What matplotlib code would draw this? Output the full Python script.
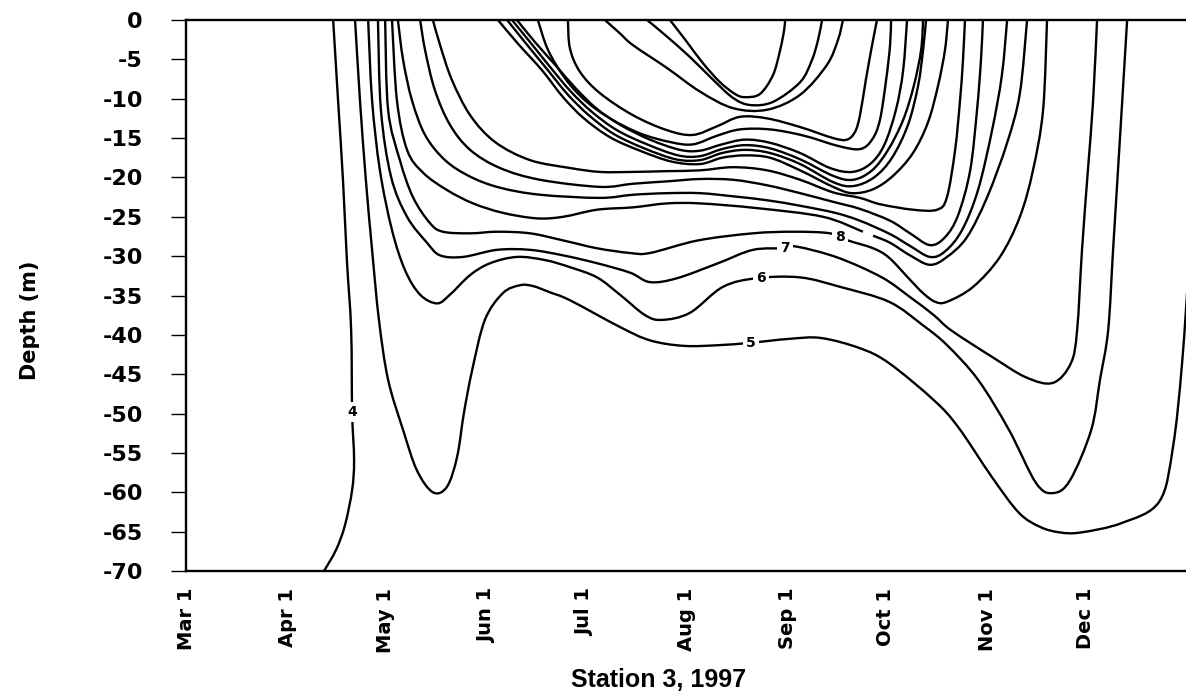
import numpy as np
import matplotlib
matplotlib.use("Agg")
import matplotlib.pyplot as plt
from matplotlib.path import Path
from matplotlib.patches import PathPatch
from matplotlib import font_manager

plt.rcParams["font.family"] = "DejaVu Sans"
plt.rcParams["font.weight"] = "bold"

# isotherms, day counted from Mar 1, depth in m
iso4_day = [45.0, 46.5, 48.0, 49.2, 50.5, 50.8, 51.4, 50.8, 48.6, 45.9, 42.2]
iso4_depth = [0, -10.2, -20.3, -30.5, -39.4, -49.8, -55.9, -59.7, -64.2, -67.3, -70.0]

iso5_day = [51.7, 53.2, 55.0, 56.9, 59.0, 61.8, 66.4, 70.6, 75.5, 79.8, 82.9, 85.0, 87.5, 91.4,
            96.9, 102.1, 106.1, 111.3, 117.4, 132.7, 141.9, 152.3, 163.3, 172.8, 184.7, 194.2,
            206.1, 215.0, 228.7, 236.1, 246.5, 254.7, 261.2, 267.3, 273.7, 286.2, 297.6, 301.8,
            304.6, 307.0]
iso5_depth = [0, -10.2, -20.3, -29.2, -38.1, -45.7, -52.1, -57.2, -60.0, -59.3, -55.5, -49.9,
              -44.5, -38.1, -34.7, -33.7, -33.8, -34.6, -35.6, -39.0, -40.7, -41.4, -41.3, -41.0,
              -40.5, -40.4, -41.7, -43.6, -48.3, -51.7, -58.1, -62.6, -64.4, -65.1, -65.1, -63.9,
              -61.2, -54.3, -43.6, -29.2]

iso6_day = [55.7, 56.9, 59.3, 63.0, 67.0, 71.6, 76.8, 80.7, 86.9, 93.0, 101.2, 109.8, 117.4,
            125.7, 132.7, 140.4, 145.6, 154.1, 164.2, 174.6, 187.8, 200.0, 215.0, 225.4, 232.7,
            242.2, 251.7, 259.9, 265.1, 270.3, 276.8, 279.5, 282.0, 283.5, 285.0, 286.5, 287.8]
iso6_depth = [0, -10.2, -19.1, -26.7, -31.8, -34.9, -36.0, -34.9, -32.4, -30.9, -30.1, -30.5,
              -31.4, -32.7, -34.9, -37.5, -38.1, -37.2, -33.9, -32.8, -32.7, -33.9, -35.8, -38.8,
              -41.3, -45.7, -52.1, -58.8, -60.1, -58.5, -52.1, -45.7, -39.4, -29.2, -19.1, -8.9, 0]

iso7_day = [58.7, 59.6, 62.7, 67.6, 73.7, 77.7, 84.7, 95.1, 105.2, 115.3, 125.7, 135.8, 141.9,
            150.2, 162.7, 173.4, 183.2, 186.9, 199.4, 212.8, 221.4, 228.7, 233.9, 246.5, 256.9,
            265.1, 270.6, 272.5, 274.0, 275.8, 277.4, 278.6]
iso7_depth = [0, -11.4, -19.9, -25.0, -28.3, -29.9, -30.1, -29.2, -29.2, -29.9, -30.9, -32.1,
              -33.3, -32.8, -30.9, -29.2, -29.0, -28.8, -30.2, -32.7, -35.2, -37.5, -39.4, -42.8,
              -45.4, -46.1, -43.6, -39.4, -29.2, -19.1, -10.2, 0]

iso8_day = [60.9, 61.8, 65.4, 69.4, 74.6, 78.6, 86.9, 95.1, 105.2, 115.3, 125.7, 135.8, 141.9,
            156.6, 173.4, 185.9, 196.9, 202.4, 210.1, 215.0, 221.4, 225.4, 229.1, 232.7, 240.7,
            248.9, 255.0, 259.0, 262.1, 263.3]
iso8_depth = [0, -11.4, -17.8, -22.5, -25.8, -26.9, -27.1, -26.9, -27.1, -28.0, -29.0, -29.6,
              -29.6, -28.0, -27.1, -26.9, -27.1, -28.0, -29.0, -30.2, -33.0, -34.7, -35.8, -35.8,
              -33.9, -30.1, -25.0, -19.1, -11.4, 0]

# nan marks the blank gap left for a missing label
iso9_day = [63.0, 64.5, 67.6, 72.5, 79.8, 87.8, 96.9, 107.3, 115.3, 125.7, 136.7, 147.1, 157.2,
            174.6, 194.8, 207.0, np.nan, 210.1, 215.3, 221.4, 227.5, 232.7, 238.8, 245.0, 251.1,
            255.0, 257.2]
iso9_depth = [0, -10.2, -16.5, -19.4, -21.6, -23.3, -24.5, -25.2, -25.0, -24.1, -23.8, -23.3,
              -23.3, -23.9, -25.0, -26.9, np.nan, -27.4, -28.3, -29.9, -31.1, -30.1, -27.6, -22.5,
              -15.6, -9.3, 0]

iso10_day = [64.8, 66.4, 69.1, 73.1, 79.2, 86.9, 96.0, 108.3, 126.6, 136.7, 147.1, 157.2, 167.3,
             177.7, 187.8, 198.5, 206.1, 215.3, 221.4, 227.5, 232.1, 237.3, 242.2, 246.5, 249.5,
             251.1]
iso10_depth = [0, -5.1, -10.2, -14.6, -17.8, -19.9, -21.3, -22.2, -22.6, -22.2, -22.0, -22.0,
               -22.4, -22.9, -23.6, -24.5, -25.5, -27.2, -28.7, -30.1, -29.4, -26.7, -21.6, -14.0,
               -7.0, 0]

iso11_day = [71.6, 73.1, 76.1, 80.7, 86.9, 96.0, 108.3, 126.6, 136.7, 147.1, 157.2, 167.3, 177.7,
             187.8, 197.9, 206.1, 215.3, 221.4, 227.5, 232.1, 236.1, 239.8, 241.9, 243.1, 243.7]
iso11_depth = [0, -3.8, -8.9, -13.3, -16.5, -18.8, -20.3, -21.2, -20.8, -20.5, -20.2, -20.3,
               -21.0, -22.0, -23.1, -24.0, -25.5, -27.1, -28.6, -27.6, -24.8, -19.1, -11.4, -5.1, 0]

iso12_day = [75.5, 77.7, 81.3, 86.9, 94.5, 105.2, 117.4, 126.6, 136.7, 147.1, 157.2, 167.3, 177.7,
             187.8, 197.9, 206.1, 212.2, 222.3, 229.7, 232.7, 235.2, 236.7, 237.6, 238.2]
iso12_depth = [0, -3.2, -7.6, -12.1, -15.5, -17.8, -18.8, -19.3, -19.3, -19.2, -19.1, -18.7,
               -19.1, -20.3, -21.9, -22.6, -23.4, -24.1, -24.1, -22.5, -16.5, -10.2, -5.1, 0]

iso13_day = [95.4, 101.5, 108.9, 115.3, 121.7, 129.7, 138.8, 148.6, 157.2, 163.9, 170.9, 178.6,
             187.8, 197.9, 203.7, 210.1, 216.2, 222.3, 226.9, 230.0, 232.1, 233.0]
iso13_depth = [0, -3.0, -6.4, -9.8, -12.5, -14.9, -16.6, -18.0, -18.3, -17.5, -17.2, -17.5,
               -19.1, -21.2, -22.0, -21.5, -19.8, -16.9, -13.0, -8.3, -3.8, 0]

iso14_day = [98.2, 104.0, 110.7, 116.8, 123.2, 130.9, 140.1, 149.8, 157.2, 163.9, 170.9, 178.6,
             187.8, 197.9, 204.0, 210.4, 215.9, 220.8, 223.9, 225.4, 226.3]
iso14_depth = [0, -3.0, -6.4, -9.5, -12.1, -14.5, -16.3, -17.7, -17.8, -16.9, -16.5, -16.9,
               -18.3, -20.6, -21.1, -20.0, -17.5, -13.3, -8.3, -3.8, 0]

iso15_day = [99.7, 105.2, 111.6, 117.7, 124.2, 131.8, 141.0, 150.5, 157.2, 163.9, 170.9, 178.6,
             187.8, 197.9, 204.0, 209.8, 214.7, 219.3, 222.6, 224.8, 225.4]
iso15_depth = [0, -2.8, -6.1, -9.1, -11.7, -14.0, -15.8, -17.2, -17.3, -16.4, -15.9, -16.3,
               -17.7, -19.8, -20.3, -19.1, -16.5, -12.7, -8.3, -3.8, 0]

iso16_day = [101.2, 106.7, 113.1, 119.0, 125.4, 132.7, 141.9, 151.1, 157.2, 163.9, 170.9, 178.6,
             187.8, 196.9, 203.7, 209.2, 213.5, 217.1, 219.3, 220.5]
iso16_depth = [0, -2.8, -5.8, -8.6, -11.2, -13.3, -15.2, -16.5, -16.6, -15.8, -15.2, -15.6,
               -16.9, -18.8, -19.3, -18.3, -15.9, -11.4, -6.4, 0]

iso17_day = [107.6, 110.7, 115.9, 122.0, 129.7, 138.8, 148.0, 155.0, 162.4, 169.4, 178.6, 189.0,
             199.4, 206.1, 209.8, 212.2, 214.1, 215.3, 215.6]
iso17_depth = [0, -3.8, -7.4, -10.2, -12.5, -14.4, -15.5, -15.8, -14.7, -13.9, -13.9, -14.7,
               -16.0, -16.4, -15.2, -12.7, -7.6, -3.2, 0]

iso18_day = [116.8, 117.4, 120.5, 126.6, 136.7, 147.1, 155.0, 162.4, 169.4, 177.7, 187.8, 197.9,
             202.1, 204.6, 206.1, 207.9, 209.8, 211.3]
iso18_depth = [0, -3.6, -6.6, -9.3, -12.1, -14.0, -14.6, -13.5, -12.3, -12.5, -13.6, -15.0,
               -15.2, -14.2, -12.1, -7.6, -3.2, 0]

iso19_day = [128.1, 132.7, 136.7, 147.1, 157.2, 167.3, 177.7, 187.8, 196.0, 199.4, 200.9]
iso19_depth = [0, -1.7, -3.2, -6.1, -9.1, -11.2, -11.4, -9.5, -5.7, -2.5, 0]

iso20_day = [141.0, 146.5, 154.1, 161.2, 167.3, 172.5, 179.5, 187.8, 191.4, 193.3, 194.5]
iso20_depth = [0, -1.9, -4.7, -7.6, -9.9, -10.8, -10.4, -7.9, -5.1, -2.5, 0]

iso21_day = [148.0, 153.2, 158.1, 163.3, 167.9, 170.9, 175.5, 179.5, 181.7, 182.9, 183.2]
iso21_depth = [0, -2.8, -5.5, -7.9, -9.4, -9.8, -9.4, -7.0, -3.8, -1.3, 0]

isotherms = [
    (iso4_day, iso4_depth), (iso5_day, iso5_depth), (iso6_day, iso6_depth),
    (iso7_day, iso7_depth), (iso8_day, iso8_depth), (iso9_day, iso9_depth),
    (iso10_day, iso10_depth), (iso11_day, iso11_depth), (iso12_day, iso12_depth),
    (iso13_day, iso13_depth), (iso14_day, iso14_depth), (iso15_day, iso15_depth),
    (iso16_day, iso16_depth), (iso17_day, iso17_depth), (iso18_day, iso18_depth),
    (iso19_day, iso19_depth), (iso20_day, iso20_depth), (iso21_day, iso21_depth),
]

label_text = ["4", "5", "6", "7", "8"]
label_day = [50.8, 172.8, 175.8, 183.2, 200.0]
label_depth = [-49.8, -41.0, -32.8, -29.0, -27.6]

month_day = [0, 31, 61, 92, 122, 153, 184, 214, 245, 275]
month_labels = ["Mar 1", "Apr 1", "May 1", "Jun 1", "Jul 1", "Aug 1", "Sep 1", "Oct 1",
                "Nov 1", "Dec 1"]
depth_ticks = [0, -5, -10, -15, -20, -25, -30, -35, -40, -45, -50, -55, -60, -65, -70]
depth_labels = ["0", "-5", "-10", "-15", "-20", "-25", "-30", "-35", "-40", "-45", "-50",
                "-55", "-60", "-65", "-70"]


def smooth_path(days, depths):
    # catmull-rom through the read points, drawn as cubic bezier pieces
    pts = np.column_stack([days, depths]).astype(float)
    gaps = np.where(np.isnan(pts[:, 0]))[0]
    verts, codes = [], []
    for seg in np.split(pts, gaps):
        seg = seg[~np.isnan(seg[:, 0])]
        n = len(seg)
        verts.append(seg[0])
        codes.append(Path.MOVETO)
        for i in range(n - 1):
            p0 = seg[max(i - 1, 0)]
            p1 = seg[i]
            p2 = seg[i + 1]
            p3 = seg[min(i + 2, n - 1)]
            verts += [p1 + (p2 - p0) / 6, p2 - (p3 - p1) / 6, p2]
            codes += [Path.CURVE4] * 3
    return Path(verts, codes)


# a narrow face for the station caption, if one is installed
installed = {f.name for f in font_manager.fontManager.ttflist}
narrow = [n for n in ["Liberation Sans Narrow", "DejaVu Sans Condensed", "Liberation Sans"]
          if n in installed]
caption_font = narrow[0] if narrow else "DejaVu Sans"
caption_size = 18 if caption_font == "Liberation Sans" else 20

fig = plt.figure(figsize=(11.86, 6.96), dpi=100)
ax = fig.add_axes([186 / 1186, 125 / 696, 1000 / 1186, 551 / 696])

for days, depths in isotherms:
    ax.add_patch(PathPatch(smooth_path(days, depths), fill=False, ec="black", lw=1.7,
                           joinstyle="round", capstyle="butt"))

for t, d, z in zip(label_text, label_day, label_depth):
    ax.text(d, z, t, ha="center", va="center", fontsize=10, zorder=5,
            bbox=dict(boxstyle="square,pad=0.25", fc="white", ec="none"))

ax.set_xlim(0, 305.8)
ax.set_ylim(-70, 0)

ax.set_xticks(month_day)
ax.set_xticklabels(month_labels, rotation=90, fontsize=14)
ax.set_yticks(depth_ticks)
ax.set_yticklabels(depth_labels, fontsize=16)
ax.tick_params(axis="x", length=0, pad=12)
ax.tick_params(axis="y", direction="out", length=11, width=1, pad=20)

ax.spines["right"].set_visible(False)
for side in ["left", "bottom", "top"]:
    ax.spines[side].set_linewidth(1.7)

fig.text(30 / 1186, 1 - 320 / 696, "Depth (m)", rotation=90, ha="center", va="center",
         fontsize=15)
fig.text(659 / 1186, 1 - 680 / 696, "Station 3, 1997", ha="center", va="center",
         fontsize=caption_size, family=caption_font)

fig.savefig("out.png", dpi=100)
